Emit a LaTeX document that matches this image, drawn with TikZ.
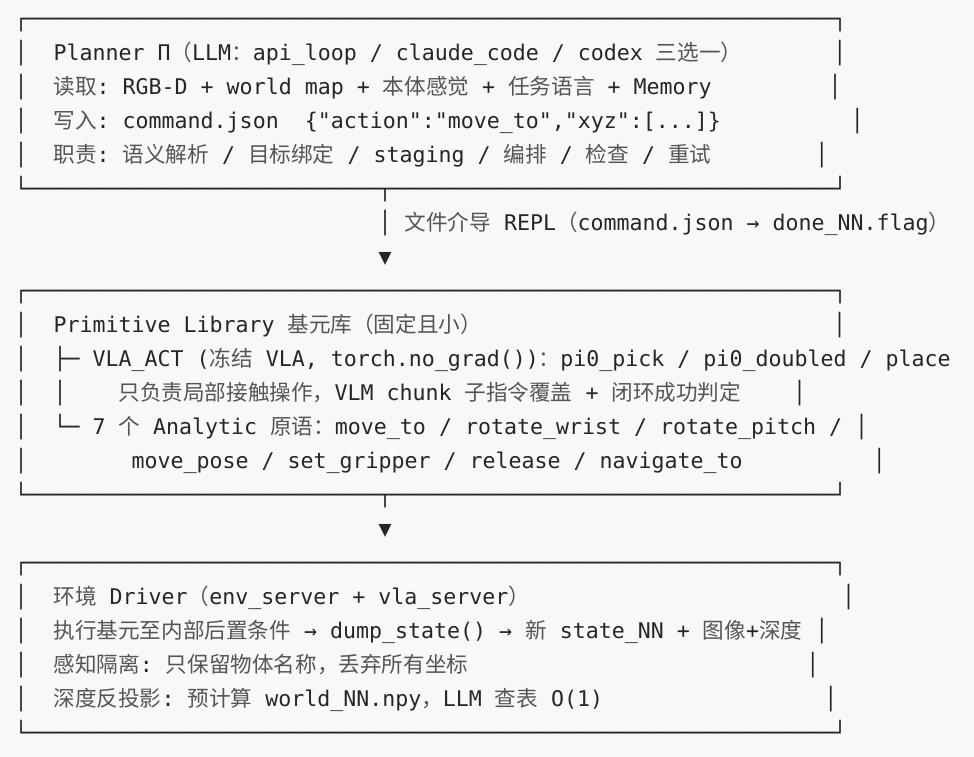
\documentclass[tikz,border=0pt]{standalone}
\usepackage{fontspec}
\setmonofont{DejaVu Sans Mono}
\newfontfamily\cjk{Noto Sans CJK SC}
\definecolor{bgc}{HTML}{F8F8F8}
\definecolor{txc}{HTML}{262626}
\definecolor{cjkc}{HTML}{555555}
\newcommand\zh[1]{{\cjk\color{cjkc}#1}}
\ExplSyntaxOn
\cs_new:Npn \myrep #1#2 { \prg_replicate:nn {#1} {#2} }
\ExplSyntaxOff
\tikzset{
  row/.style={anchor=base west, inner sep=0pt, outer sep=0pt, text=txc,
    font=\ttfamily\fontsize{21.6pt}{34pt}\selectfont},
}
\begin{document}
\begin{tikzpicture}[x=1pt,y=-1pt]
\fill[bgc] (0,0) rectangle (974,757);
\useasboundingbox (0,0) rectangle (974,757);
% Planner box
\node[row] (r0)  at (14.5, 26.5) {┌\myrep{62}{─}┐};
\node[row] (r1)  at (14.5, 60.5) {│\myrep{2}{~}Planner~Π\zh{（}LLM\zh{：}api\_loop~/~claude\_code~/~codex~\zh{三选一）}\myrep{7}{~}│};
\node[row] (r2)  at (14.5, 94.5) {│\myrep{2}{~}\zh{读取}:~RGB-D~+~world~map~+~\zh{本体感觉}~+~\zh{任务语言}~+~Memory\myrep{9}{~}│};
\node[row] (r3)  at (14.5,128.5) {│\myrep{2}{~}\zh{写入}:~command.json~~\{"action":"move\_to","xyz":[...]\}\myrep{10}{~}│};
\node[row] (r4)  at (14.5,162.5) {│\myrep{2}{~}\zh{职责}:~\zh{语义解析}~/~\zh{目标绑定}~/~staging~/~\zh{编排}~/~\zh{检查}~/~\zh{重试}\myrep{8}{~}│};
\node[row] (r5)  at (14.5,196.5) {└\myrep{27}{─}┬\myrep{34}{─}┘};
% connector 1
\node[row] (r6)  at (14.5,230.5) {\myrep{28}{~}│~\zh{文件介导}~REPL\zh{（}command.json~→~done\_NN.flag\zh{）}};
\node[row] (r7)  at (14.5,264.5) {\myrep{28}{~}▼};
% Primitive library box
\node[row] (r8)  at (14.5,298.5) {┌\myrep{62}{─}┐};
\node[row] (r9)  at (14.5,332.5) {│\myrep{2}{~}Primitive~Library~\zh{基元库（固定且小）}\myrep{27}{~}│};
\node[row] (r10) at (14.5,366.5) {│\myrep{2}{~}├─~VLA\_ACT~(\zh{冻结}~VLA,~torch.no\_grad())\zh{：}pi0\_pick~/~pi0\_doubled~/~place};
\node[row] (r11) at (14.5,400.5) {│\myrep{2}{~}│\myrep{4}{~}\zh{只负责局部接触操作，}VLM~chunk~\zh{子指令覆盖}~+~\zh{闭环成功判定}\myrep{4}{~}│};
\node[row] (r12) at (14.5,434.5) {│\myrep{2}{~}└─~7~\zh{个}~Analytic~\zh{原语：}move\_to~/~rotate\_wrist~/~rotate\_pitch~/~│};
\node[row] (r13) at (14.5,468.5) {│\myrep{8}{~}move\_pose~/~set\_gripper~/~release~/~navigate\_to\myrep{10}{~}│};
\node[row] (r14) at (14.5,502.5) {└\myrep{27}{─}┬\myrep{34}{─}┘};
% connector 2
\node[row] (r15) at (14.5,536.5) {\myrep{28}{~}▼};
% Driver box
\node[row] (r16) at (14.5,570.5) {┌\myrep{62}{─}┐};
\node[row] (r17) at (14.5,604.5) {│\myrep{2}{~}\zh{环境}~Driver\zh{（}env\_server~+~vla\_server\zh{）}\myrep{24}{~}│};
\node[row] (r18) at (14.5,638.5) {│\myrep{2}{~}\zh{执行基元至内部后置条件}~→~dump\_state()~→~\zh{新}~state\_NN~+~\zh{图像}+\zh{深度}~│};
\node[row] (r19) at (14.5,672.5) {│\myrep{2}{~}\zh{感知隔离}:~\zh{只保留物体名称，丢弃所有坐标}\myrep{26}{~}│};
\node[row] (r20) at (14.5,706.5) {│\myrep{2}{~}\zh{深度反投影}:~\zh{预计算}~world\_NN.npy\zh{，}LLM~\zh{查表}~O(1)\myrep{17}{~}│};
\node[row] (r21) at (14.5,740.5) {└\myrep{62}{─}┘};
\end{tikzpicture}
\end{document}
